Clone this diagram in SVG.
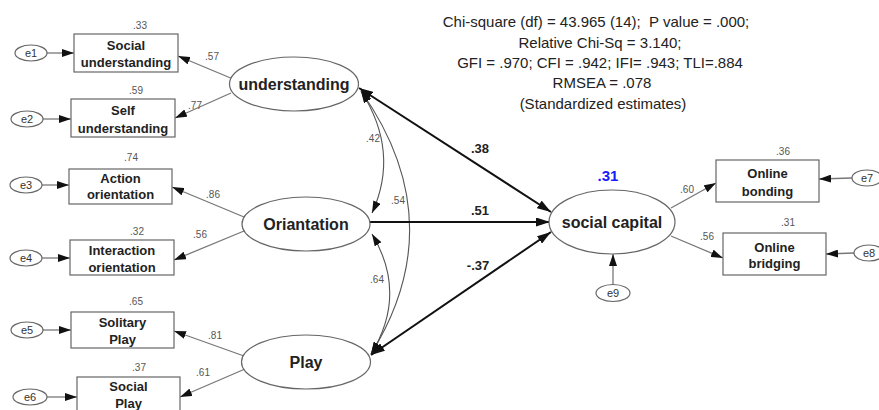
<svg xmlns="http://www.w3.org/2000/svg" width="879" height="410" viewBox="0 0 879 410">
<defs>
<marker id="ah" markerUnits="userSpaceOnUse" markerWidth="12" markerHeight="8" viewBox="0 0 12 8" refX="12" refY="4" orient="auto-start-reverse"><path d="M0,0 L12,4 L0,8 Z" fill="#111"/></marker>
<marker id="ahb" markerUnits="userSpaceOnUse" markerWidth="14" markerHeight="9" viewBox="0 0 14 9" refX="14" refY="4.5" orient="auto-start-reverse"><path d="M0,0 L14,4.5 L0,9 Z" fill="#111"/></marker>
</defs>
<style>
rect{fill:#fff;stroke:#666;stroke-width:1.2}
ellipse{fill:#fff;stroke:#666;stroke-width:1.2}
text{font-family:"Liberation Sans",Arial,sans-serif;fill:#222}
.box{font-size:13px;font-weight:bold;text-anchor:middle}
.lat{font-size:16px;font-weight:bold;text-anchor:middle}
.err{font-size:11px;text-anchor:middle;fill:#333}
.est{font-size:10px;text-anchor:middle;fill:#555}
.bold{font-size:13px;font-weight:bold;text-anchor:middle}
.stat{font-size:15px;text-anchor:middle}
.m{stroke:#777;stroke-width:1.3;fill:none;marker-end:url(#ah)}
.c{stroke:#555;stroke-width:1.1;fill:none;marker-start:url(#ah);marker-end:url(#ah)}
.s{stroke:#111;stroke-width:2;fill:none}
</style>
<g id="connectors">
<line class="m" x1="47" y1="53" x2="74" y2="53"/>
<line class="m" x1="43" y1="119" x2="71" y2="119"/>
<line class="m" x1="42" y1="185" x2="69" y2="185"/>
<line class="m" x1="42" y1="258" x2="70" y2="258"/>
<line class="m" x1="43" y1="330" x2="71" y2="330"/>
<line class="m" x1="47" y1="397" x2="77" y2="397"/>
<line class="m" x1="852" y1="178" x2="819" y2="179"/>
<line class="m" x1="854" y1="253" x2="826" y2="254"/>
<line class="m" x1="613" y1="285" x2="613" y2="254"/>
<line class="m" x1="233" y1="79" x2="178" y2="56"/>
<line class="m" x1="231" y1="93" x2="175" y2="118"/>
<line class="m" x1="244" y1="217" x2="172" y2="187"/>
<line class="m" x1="244" y1="231" x2="174" y2="260"/>
<line class="m" x1="244" y1="356" x2="174" y2="331"/>
<line class="m" x1="245" y1="369" x2="180" y2="397"/>
<line class="m" x1="671" y1="208" x2="716" y2="183"/>
<line class="m" x1="671" y1="236" x2="723" y2="258"/>
<path class="c" d="M361,91 Q400,152 372,213"/>
<path class="c" d="M361,91 Q453,222 371,354"/>
<path class="c" d="M372,234 Q408,294 371,354"/>
<line class="s" x1="359" y1="88" x2="551" y2="212" marker-start="url(#ahb)" marker-end="url(#ahb)"/>
<line class="s" x1="370" y1="222" x2="550" y2="222" marker-end="url(#ahb)"/>
<line class="s" x1="371" y1="355" x2="551" y2="232" marker-start="url(#ahb)" marker-end="url(#ahb)"/>
<text class="est" x="212" y="60">.57</text>
<text class="est" x="195" y="109">.77</text>
<text class="est" x="213" y="198">.86</text>
<text class="est" x="200" y="238">.56</text>
<text class="est" x="215" y="339">.81</text>
<text class="est" x="203" y="376">.61</text>
<text class="est" x="687" y="193">.60</text>
<text class="est" x="707" y="240">.56</text>
<text class="est" x="373" y="142">.42</text>
<text class="est" x="398" y="204">.54</text>
<text class="est" x="377" y="283">.64</text>
<text class="bold" x="480" y="153">.38</text>
<text class="bold" x="480" y="215">.51</text>
<text class="bold" x="478" y="270">-.37</text>
</g>
<g id="e1"><ellipse cx="31" cy="53" rx="16" ry="8"/><text class="err" x="31" y="57">e1</text></g>
<g id="e2"><ellipse cx="27" cy="119" rx="16" ry="8"/><text class="err" x="27" y="123">e2</text></g>
<g id="e3"><ellipse cx="26" cy="185" rx="16" ry="8"/><text class="err" x="26" y="189">e3</text></g>
<g id="e4"><ellipse cx="26" cy="258" rx="16" ry="8"/><text class="err" x="26" y="262">e4</text></g>
<g id="e5"><ellipse cx="27" cy="330" rx="16" ry="8"/><text class="err" x="27" y="334">e5</text></g>
<g id="e6"><ellipse cx="30" cy="397" rx="17" ry="8"/><text class="err" x="30" y="401">e6</text></g>
<g id="e7"><ellipse cx="867" cy="178" rx="15" ry="8"/><text class="err" x="867" y="182">e7</text></g>
<g id="e8"><ellipse cx="869" cy="253" rx="15" ry="8"/><text class="err" x="869" y="257">e8</text></g>
<g id="e9"><ellipse cx="613" cy="293" rx="17" ry="8.5"/><text class="err" x="613" y="297">e9</text></g>
<g id="social-understanding"><rect x="74" y="34" width="104" height="38"/><text class="box" x="126" y="49.5">Social</text><text class="box" x="126" y="66.5">understanding</text><text class="est" x="140" y="29">.33</text></g>
<g id="self-understanding"><rect x="71" y="99" width="104" height="38"/><text class="box" x="123" y="115">Self</text><text class="box" x="123" y="132.5">understanding</text><text class="est" x="136" y="94">.59</text></g>
<g id="action-orientation"><rect x="69" y="169" width="103" height="35"/><text class="box" x="120.5" y="182.5">Action</text><text class="box" x="120.5" y="198.5">orientation</text><text class="est" x="131" y="161">.74</text></g>
<g id="interaction-orientation"><rect x="70" y="240" width="104" height="35"/><text class="box" x="122" y="254.5">Interaction</text><text class="box" x="122" y="271.5">orientation</text><text class="est" x="137" y="235">.32</text></g>
<g id="solitary-play"><rect x="71" y="312" width="103" height="36"/><text class="box" x="122.5" y="326.5">Solitary</text><text class="box" x="122.5" y="343.5">Play</text><text class="est" x="136" y="305">.65</text></g>
<g id="social-play"><rect x="77" y="377" width="103" height="37"/><text class="box" x="128.5" y="391">Social</text><text class="box" x="128.5" y="407.5">Play</text><text class="est" x="139" y="371">.37</text></g>
<g id="online-bonding"><rect x="716" y="160" width="103" height="42"/><text class="box" x="767.5" y="177.5">Online</text><text class="box" x="767.5" y="195.5">bonding</text><text class="est" x="783" y="155">.36</text></g>
<g id="online-bridging"><rect x="723" y="233" width="103" height="42"/><text class="box" x="774.5" y="251.5">Online</text><text class="box" x="774.5" y="268">bridging</text><text class="est" x="788" y="226">.31</text></g>
<g id="understanding"><ellipse cx="294" cy="84" rx="64.5" ry="27"/><text class="lat" x="294" y="90">understanding</text></g>
<g id="oriantation"><ellipse cx="306" cy="224" rx="64" ry="27"/><text class="lat" x="306" y="230">Oriantation</text></g>
<g id="play"><ellipse cx="306" cy="362" rx="64.5" ry="27"/><text class="lat" x="306" y="368">Play</text></g>
<g id="social-capital"><ellipse cx="612" cy="222" rx="63" ry="32"/><text class="lat" x="612" y="228">social capital</text><text x="608" y="180.5" style="font-size:15px;font-weight:bold;text-anchor:middle;fill:#1a1aff">.31</text></g>
<g id="fit-statistics">
<text class="stat" x="596" y="27">Chi-square (df) = 43.965 (14);&#160; P value = .000;</text>
<text class="stat" x="600" y="48">Relative Chi-Sq = 3.140;</text>
<text class="stat" x="600" y="68">GFI = .970; CFI = .942; IFI= .943; TLI=.884</text>
<text class="stat" x="602" y="88">RMSEA = .078</text>
<text class="stat" x="603" y="109">(Standardized estimates)</text>
</g>
</svg>
